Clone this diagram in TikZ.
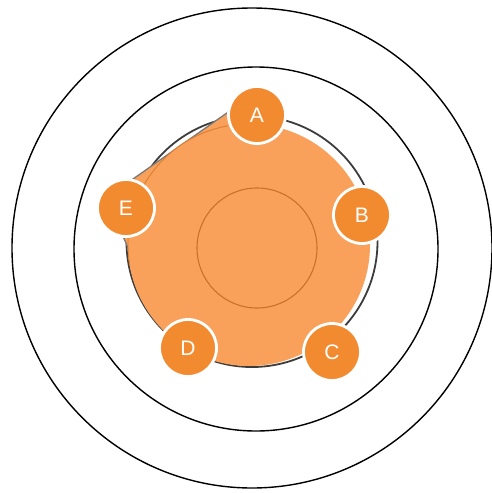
\documentclass[tikz,border=0pt]{standalone}
\usepackage{fontspec}
\setmainfont{Liberation Sans}
\definecolor{bodyfill}{HTML}{F9A15A}
\definecolor{nodefill}{HTML}{F28B30}
\definecolor{rimline}{HTML}{3C3C3C}
\definecolor{shadowline}{HTML}{7A7A7A}
\definecolor{coreline}{HTML}{C7722C}
\definecolor{innerrim}{HTML}{DC7E30}
\tikzset{
  ring/.style={draw=black, line width=1.4pt},
  member/.style={circle, draw=white, line width=2.8pt, fill=nodefill, text=white,
    minimum size=57pt, inner sep=0pt, font=\fontsize{21}{24}\selectfont},
}
\begin{document}
\begin{tikzpicture}[x=1pt,y=-1pt]
\useasboundingbox (0,0) rectangle (491,493);
\fill[white] (0,0) rectangle (491,493);
% outer rings
\draw[ring] (252,248) circle[radius=240];
\draw[ring] (256,249) circle[radius=182];
% dark rim circle behind the body
\draw[rimline, line width=1.8pt] (252,241.5) circle[radius=125.5];
% orange body: left flattened part + disc
\coordinate (pA) at (251,96);
\coordinate (pE) at (106,198);
\coordinate (pD) at (176,356);
\coordinate (mid) at (249,245);
\fill[bodyfill] (pA) -- (pE) -- (pD) -- (mid) -- cycle;
\draw[shadowline, line width=1.3pt] (pA) -- (pE) -- (pD);
\fill[bodyfill] (mid) circle[radius=121];
\draw[innerrim, line width=0.9pt] (mid) ++(-100:121) arc[start angle=-100, end angle=-190, radius=121];
% core circle
\draw[coreline, line width=1.1pt] (257,248) circle[radius=60];
% members
\node[member] (A) at (257,115) {A};
\node[member] (B) at (362,215) {B};
\node[member] (C) at (332,352) {C};
\node[member] (D) at (188,348) {D};
\node[member] (E) at (126,208) {E};
\end{tikzpicture}
\end{document}
